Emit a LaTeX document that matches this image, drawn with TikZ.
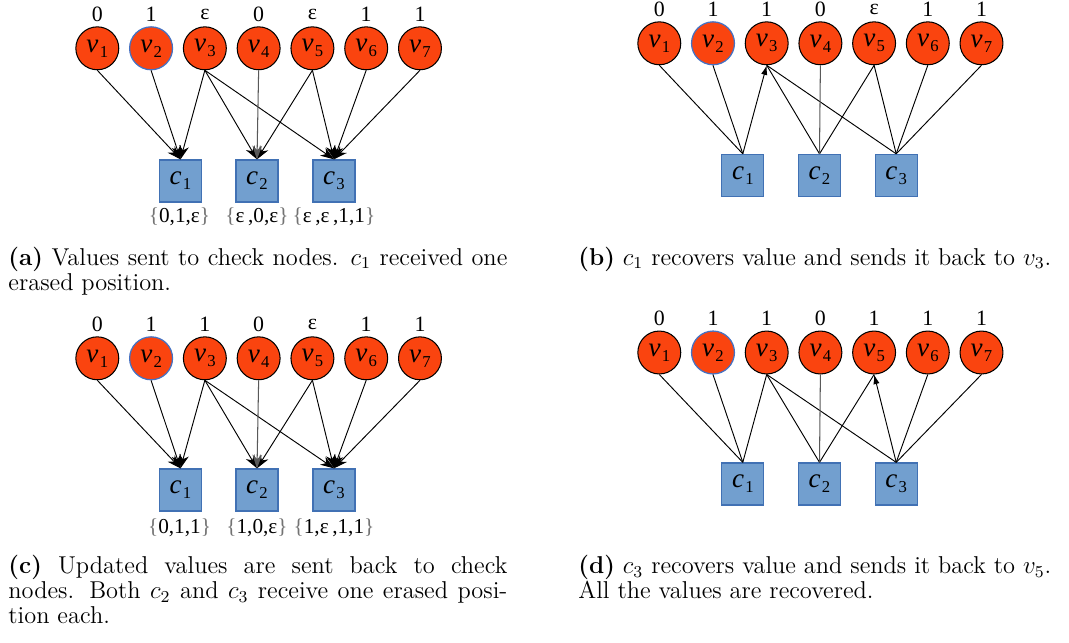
\documentclass[tikz,border=0pt]{standalone}
\usepackage{fontspec}
\newfontfamily\dfont{Liberation Serif}
\usetikzlibrary{arrows.meta}
\definecolor{vred}{RGB}{250,68,15}
\definecolor{cblue}{RGB}{114,159,207}
\definecolor{cborder}{RGB}{65,113,180}
\definecolor{vtwoborder}{RGB}{68,114,196}
\newcommand{\vlab}[1]{{\itshape v}\kern0.6pt\raisebox{-0.4ex}{\fontsize{8}{8}\selectfont #1}}
\newcommand{\clab}[1]{{\itshape c}\kern0.6pt\raisebox{-0.4ex}{\fontsize{8}{8}\selectfont #1}}
\newcommand{\br}[1]{{\color{black!55}\{}#1{\color{black!55}\}}}
\tikzset{
  vnode/.style={circle, minimum size=20.6pt, inner sep=0pt, fill=vred, draw=black, line width=0.5pt, font=\dfont\fontsize{13}{13}\selectfont},
  vnodeb/.style={vnode, draw=vtwoborder, line width=0.6pt},
  cnode/.style={rectangle, minimum size=20.2pt, inner sep=0pt, fill=cblue, draw=cborder, line width=0.6pt, font=\dfont\fontsize{13}{13}\selectfont},
  vallab/.style={font=\dfont\fontsize{10.5}{10.5}\selectfont, inner sep=0pt},
  setlab/.style={font=\dfont\fontsize{10.2}{10.2}\selectfont, inner sep=0pt},
  edge/.style={line width=0.45pt},
  greyedge/.style={line width=0.5pt, black!65},
  sendarrow/.style={-{Stealth[length=6.5pt,width=4.6pt,inset=2pt]}},
  backarrow/.style={-{Latex[length=4.6pt,width=3pt]}},
  capline/.style={anchor=base west, inner sep=0pt, font=\fontsize{11.7}{14}\selectfont},
}
\begin{document}
\begin{tikzpicture}[x=0.48pt,y=-0.48pt]
\useasboundingbox (0,0) rectangle (1069,642);

% ---------------- panel (a)
\foreach \i/\t/\s in {1/0/vnode,2/1/vnodeb,3/ε/vnode,4/0/vnode,5/ε/vnode,6/1/vnode,7/1/vnode}{
  \node[\s] (Av\i) at ({97.3+53.78*(\i-1)},48.3) {\vlab{\i}};
  \node[vallab] (Aval\i) at ({97.3+53.78*(\i-1)},14.2) {\t};
}
\foreach \j/\x in {1/180.5,2/257,3/334}{
  \node[cnode] (Ac\j) at (\x,181) {\clab{\j}};
}
\node[setlab] (As1) at (179.5,217) {\br{0,1,ε}};
\node[setlab] (As2) at (257,217) {\br{ε\,,0,ε}};
\node[setlab] (As3) at (334,217) {\br{ε\,,ε\,,1,1}};
\foreach \v/\c in {1/1,2/1,3/1,3/2,3/3,5/2,5/3,6/3,7/3}
  \draw[edge,sendarrow] (Av\v.south) -- (Ac\c.north);
\draw[greyedge,sendarrow] (Av4.south) -- (Ac2.north);

% ---------------- panel (b)
\foreach \i/\t/\s in {1/0/vnode,2/1/vnodeb,3/1/vnode,4/0/vnode,5/ε/vnode,6/1/vnode,7/1/vnode}{
  \node[\s] (Bv\i) at ({659.3+53.7*(\i-1)},43.3) {\vlab{\i}};
  \node[vallab] (Bval\i) at ({659.3+53.7*(\i-1)},9.2) {\t};
}
\foreach \j/\x in {1/742.8,2/819.5,3/896.2}{
  \node[cnode] (Bc\j) at (\x,175.5) {\clab{\j}};
}
\foreach \v/\c in {1/1,2/1,3/2,3/3,5/2,5/3,6/3,7/3}
  \draw[edge] (Bc\c.north) -- (Bv\v.south);
\draw[greyedge] (Bc2.north) -- (Bv4.south);
\draw[edge,backarrow] (Bc1.north) -- (Bv3.south);

% ---------------- panel (c)
\foreach \i/\t/\s in {1/0/vnode,2/1/vnodeb,3/1/vnode,4/0/vnode,5/ε/vnode,6/1/vnode,7/1/vnode}{
  \node[\s] (Cv\i) at ({97.3+53.78*(\i-1)},358.3) {\vlab{\i}};
  \node[vallab] (Cval\i) at ({97.3+53.78*(\i-1)},324.2) {\t};
}
\foreach \j/\x in {1/180.5,2/257,3/334}{
  \node[cnode] (Cc\j) at (\x,490) {\clab{\j}};
}
\node[setlab] (Cs1) at (179.5,527.5) {\br{0,1,1}};
\node[setlab] (Cs2) at (257,527.5) {\br{1,0,ε}};
\node[setlab] (Cs3) at (334,527.5) {\br{1,ε\,,1,1}};
\foreach \v/\c in {1/1,2/1,3/1,3/2,3/3,5/2,5/3,6/3,7/3}
  \draw[edge,sendarrow] (Cv\v.south) -- (Cc\c.north);
\draw[greyedge,sendarrow] (Cv4.south) -- (Cc2.north);

% ---------------- panel (d)
\foreach \i/\t/\s in {1/0/vnode,2/1/vnodeb,3/1/vnode,4/0/vnode,5/1/vnode,6/1/vnode,7/1/vnode}{
  \node[\s] (Dv\i) at ({659.3+53.7*(\i-1)},352.5) {\vlab{\i}};
  \node[vallab] (Dval\i) at ({659.3+53.7*(\i-1)},318.4) {\t};
}
\foreach \j/\x in {1/742.8,2/819.5,3/896.2}{
  \node[cnode] (Dc\j) at (\x,484) {\clab{\j}};
}
\foreach \v/\c in {1/1,2/1,3/1,3/2,3/3,6/3,7/3}
  \draw[edge] (Dc\c.north) -- (Dv\v.south);
\draw[edge] (Dc2.north) -- (Dv5.south);
\draw[greyedge] (Dc2.north) -- (Dv4.south);
\draw[edge,backarrow] (Dc3.north) -- (Dv5.south);

% ---------------- captions
\node[capline] (capA1) at (8,265) {\hbox to 239.5pt{\textbf{(a)} Values sent to check nodes. $c_1$ received one}};
\node[capline] (capA2) at (8,290) {erased position.};
\node[capline] (capB) at (578,265) {\textbf{(b)} $c_1$ recovers value and sends it back to $v_3$.};
\node[capline] (capC1) at (8,573.5) {\hbox to 239.5pt{\textbf{(c)} Updated values are sent back to check}};
\node[capline] (capC2) at (8,598.5) {\hbox to 239.5pt{nodes. Both $c_2$ and $c_3$ receive one erased posi-}};
\node[capline] (capC3) at (8,623.5) {tion each.};
\node[capline] (capD1) at (578,573.5) {\textbf{(d)} $c_3$ recovers value and sends it back to $v_5$.};
\node[capline] (capD2) at (578,598.5) {All the values are recovered.};
\end{tikzpicture}
\end{document}
